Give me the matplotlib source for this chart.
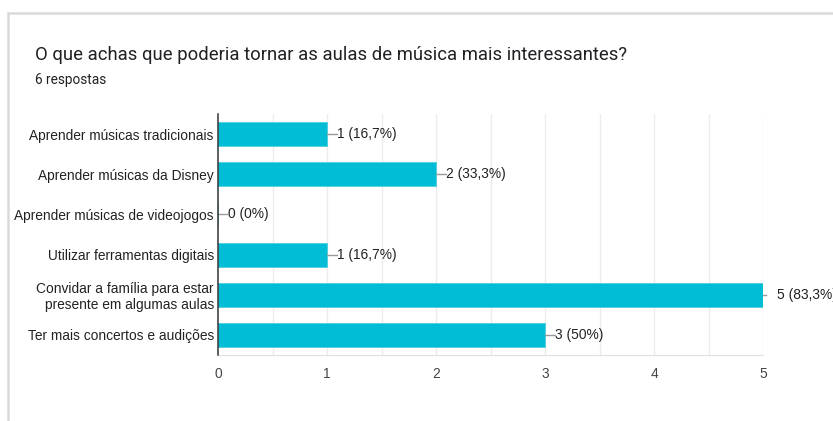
import matplotlib
matplotlib.use("Agg")
import matplotlib.pyplot as plt
from matplotlib.patches import Rectangle

categories = [
    "Aprender músicas tradicionais",
    "Aprender músicas da Disney",
    "Aprender músicas de videojogos",
    "Utilizar ferramentas digitais",
    "Convidar a família para estar\npresente em algumas aulas",
    "Ter mais concertos e audições",
]
counts = [1, 2, 0, 1, 5, 3]
labels = ["1 (16,7%)", "2 (33,3%)", "0 (0%)", "1 (16,7%)", "5 (83,3%)", "3 (50%)"]
xticks = [0, 1, 2, 3, 4, 5]

title = "O que achas que poderia tornar as aulas de música mais interessantes?"
subtitle = "6 respostas"

W, H = 833, 421
BAR = "#00bcd4"
LABEL_FONT = "Liberation Sans"

fig = plt.figure(figsize=(W / 100, H / 100), dpi=100)

# card outline (only left + top edge visible in the crop)
fig.add_artist(Rectangle((7.5 / W, -0.1), 1.2, (H - 12.5) / H + 0.1,
                         transform=fig.transFigure, fill=False,
                         edgecolor="#dadada", linewidth=1.8))

fig.text(35 / W, 1 - 55 / H, title, family="Roboto", fontsize=13.3,
         color="#202124", va="center", ha="left")
fig.text(35 / W, 1 - 80 / H, subtitle, family="Roboto", fontsize=9.8,
         color="#202124", va="center", ha="left")

ax = fig.add_axes([218 / W, 1 - 355 / H, (763 - 218) / W, (355 - 114) / H])
y = list(range(len(categories)))
ax.barh(y, counts, height=0.6, color=BAR, edgecolor="#4dd0e1", linewidth=0.6, zorder=3)

xmax = max(xticks)
ax.set_xlim(0, xmax)
ax.set_ylim(len(categories) - 0.5, -0.5)

# light vertical grid at every half unit
for g in [i * 0.5 for i in range(1, 2 * xmax + 1)]:
    ax.axvline(g, color="#ececec", linewidth=1, zorder=1)

for yi, v, lab in zip(y, counts, labels):
    if v >= xmax:
        ax.plot([v, v + 0.03], [yi, yi], color="#999999", linewidth=1, clip_on=False, zorder=4)
        tx = v + 0.13
    else:
        ax.plot([v, v + 0.09], [yi, yi], color="#999999", linewidth=1, clip_on=False, zorder=4)
        tx = v + 0.095
    ax.text(tx, yi, lab, va="center", ha="left", fontsize=9.9, family=LABEL_FONT,
            color="#222222", clip_on=False)

ax.set_yticks(y)
ax.set_yticklabels(categories, family=LABEL_FONT, fontsize=9.9, color="#222222")
ax.set_xticks(xticks)
ax.set_xticklabels([str(t) for t in xticks], family=LABEL_FONT, fontsize=9.9, color="#444444")
ax.tick_params(axis="both", length=0)
ax.tick_params(axis="y", pad=3)
ax.tick_params(axis="x", pad=9)

for s in ["top", "right"]:
    ax.spines[s].set_visible(False)
ax.spines["bottom"].set_color("#e0e0e0")
ax.spines["left"].set_color("#333333")
ax.spines["left"].set_linewidth(1.1)
ax.spines["left"].set_zorder(5)

fig.savefig("out.png", dpi=100)
